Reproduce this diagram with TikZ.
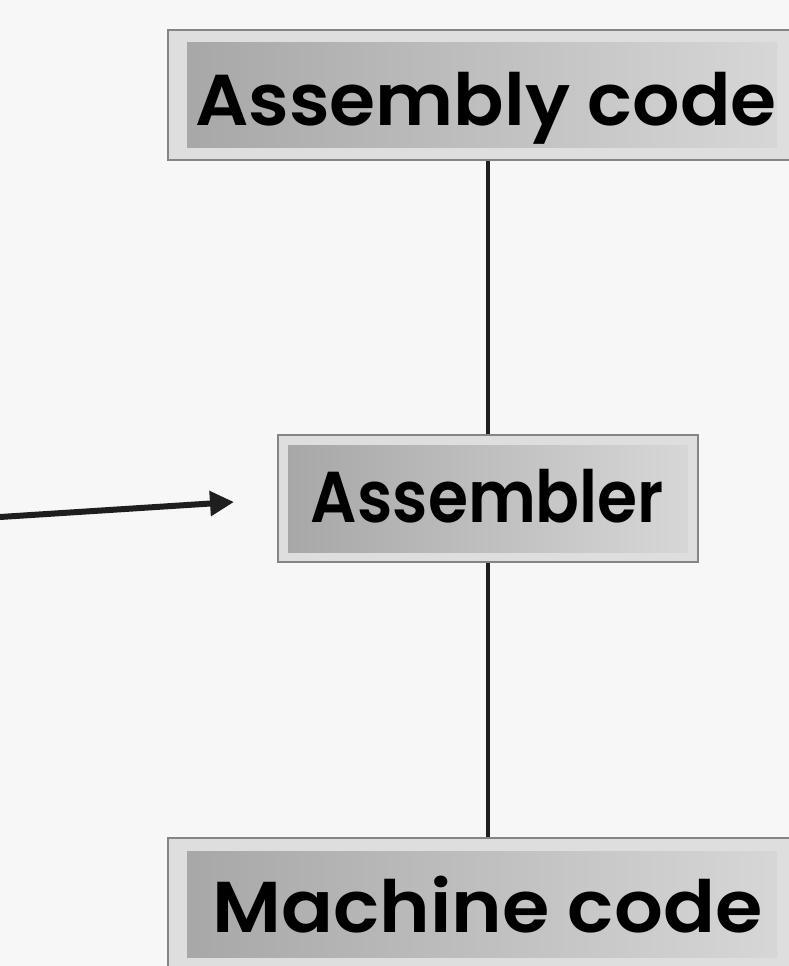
\documentclass[tikz,border=0pt]{standalone}
\usepackage{fontspec}
\setmainfont{Poppins}[BoldFont={Poppins SemiBold}]
\usetikzlibrary{arrows.meta,calc}
\definecolor{bgc}{HTML}{F7F7F7}
\definecolor{outerc}{HTML}{DEDEDE}
\definecolor{edgec}{HTML}{858585}
\definecolor{innerl}{HTML}{A6A6A6}
\definecolor{innerr}{HTML}{D8D8D8}
\definecolor{linec}{HTML}{1E1E1E}
\tikzset{
  inx/.store in=\inx, iny/.store in=\iny, inx=10pt, iny=10pt,
  codebox/.style={rectangle, fill=outerc, draw=edgec, line width=2.5pt,
    inner sep=0pt,
    path picture={\shade[left color=innerl, right color=innerr]
      ([shift={(\inx,-\iny)}]path picture bounding box.north west) rectangle
      ([shift={(-\inx,\iny)}]path picture bounding box.south east);}},
  label/.style={anchor=base, inner sep=0pt, text=black,
    font=\bfseries\fontsize{72}{74}\selectfont},
  conn/.style={draw=linec, line width=3.5pt},
}
\begin{document}
\begin{tikzpicture}[x=1pt,y=-1pt]
\fill[bgc] (0,0) rectangle (789,966);
\useasboundingbox (0,0) rectangle (789,966);
% boxes
\node[codebox, inx=19pt, iny=13pt, minimum width=628pt, minimum height=130pt] (top) at (482,95) {};
\node[label] (toptext) at (486,125) {\scalebox{1.035}[1]{Assembly code}};
\node[codebox, inx=10pt, iny=10pt, minimum width=420pt, minimum height=127pt] (mid) at (488,498.5) {};
\node[label] (midtext) at (487.5,522) {\scalebox{0.9}[1]{Assembler}};
\node[codebox, inx=19pt, iny=13pt, minimum width=628pt, minimum height=132pt] (bot) at (482,904) {};
\node[label] (bottext) at (487.5,932) {\scalebox{1.065}[1]{Machine code}};
% connectors
\draw[conn] (mid.north) -- (mid.north |- top.south);
\draw[conn] (mid.south) -- (mid.south |- bot.north);
\coordinate (src) at (0,517);
\coordinate (tip) at (234,502);
\draw[draw=linec, line width=6pt, -{Triangle[length=24pt,width=24pt]}] (src) -- (tip);
\end{tikzpicture}
\end{document}
